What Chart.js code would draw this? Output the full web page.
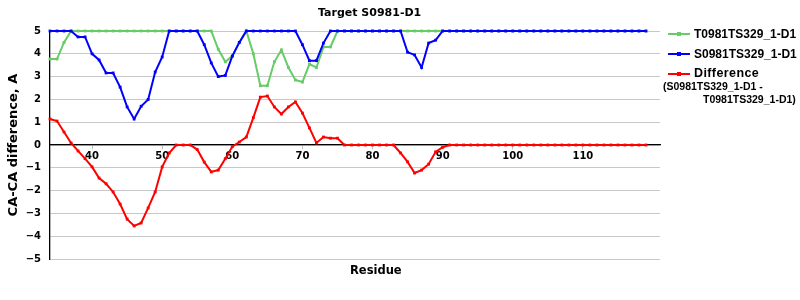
<!DOCTYPE html>
<html>
<head>
<meta charset="utf-8">
<script src="https://cdn.jsdelivr.net/npm/chart.js@4.4.1/dist/chart.umd.min.js"></script>
<style>
  html, body { margin: 0; padding: 0; background: #fff; }
  #wrap { position: relative; width: 800px; height: 300px; font-family: "DejaVu Sans", Verdana, sans-serif; }
  #c { position: absolute; left: 0; top: 0; }
  .txt { position: absolute; font-weight: bold; color: #000; white-space: nowrap; }
  .lg { font-family: "Liberation Sans", Arial, sans-serif; }
  .sw { position: absolute; width: 22px; height: 2px; }
  .sw i { position: absolute; left: 9px; top: -1px; width: 4px; height: 4px; background: inherit; }
</style>
</head>
<body>
<div id="wrap">
  <canvas id="c" width="800" height="300"></canvas>
  <div class="txt" style="left:318px;top:6px;font-size:11px;">Target S0981-D1</div>
  <div class="txt" style="left:350px;top:263px;font-size:11.5px;">Residue</div>

  <div class="sw" style="left:668px;top:33px;background:#66cc66"><i></i></div>
  <div class="txt lg" style="left:694px;top:27px;font-size:12px;">T0981TS329_1-D1</div>
  <div class="sw" style="left:668px;top:53px;background:#0000ff"><i></i></div>
  <div class="txt lg" style="left:694px;top:47px;font-size:12px;">S0981TS329_1-D1</div>
  <div class="sw" style="left:668px;top:73px;background:#ff0000"><i></i></div>
  <div class="txt lg" style="left:694px;top:66px;font-size:12.5px;letter-spacing:0.4px;">Difference</div>
  <div class="txt lg" style="left:663px;top:80px;font-size:10.5px;">(S0981TS329_1-D1 -</div>
  <div class="txt lg" style="left:703px;top:93px;font-size:10.5px;">T0981TS329_1-D1)</div>
</div>
<script>
// residue numbers along the x axis
const residues = [34,35,36,37,38,39,40,41,42,43,44,45,46,47,48,49,50,51,52,53,54,55,56,57,58,59,
  60,61,62,63,64,65,66,67,68,69,70,71,72,73,74,75,76,77,78,79,80,81,82,83,84,85,86,87,88,89,
  90,91,92,93,94,95,96,97,98,99,100,101,102,103,104,105,106,107,108,109,110,111,112,113,114,
  115,116,117,118,119];

// T0981TS329_1-D1 (green)
const tValues = [3.77,3.77,4.5,5,5,5,5,5,5,5,5,5,5,5,5,5,5,5,5,5,5,5,5,5,4.2,3.65,
  3.9,4.5,5,4.0,2.6,2.6,3.65,4.17,3.4,2.85,2.76,3.55,3.4,4.3,4.3,5,5,5,5,5,5,5,5,5,5,5,5,5,5,5,
  5,5,5,5,5,5,5,5,5,5,5,5,5,5,5,5,5,5,5,5,5,5,5,5,5,
  5,5,5,5,5];

// S0981TS329_1-D1 (blue)
const sValues = [5,5,5,5,4.74,4.74,4.0,3.73,3.16,3.16,2.54,1.67,1.14,1.7,2.0,3.2,3.86,5,5,5,5,5,4.4,3.6,3.0,3.05,
  3.9,4.5,5,5,5,5,5,5,5,5,4.4,3.7,3.7,4.47,5,5,5,5,5,5,5,5,5,5,5,4.07,3.95,3.4,4.47,4.6,
  5,5,5,5,5,5,5,5,5,5,5,5,5,5,5,5,5,5,5,5,5,5,5,5,5,
  5,5,5,5,5];

// Difference (S - T, red)
const diffValues = [1.14,1.05,0.57,0.09,-0.26,-0.6,-0.96,-1.45,-1.7,-2.06,-2.59,-3.25,-3.55,-3.42,-2.76,-2.06,-0.96,-0.35,0,0,0,-0.2,-0.75,-1.18,-1.1,-0.6,
  -0.07,0.13,0.35,1.2,2.1,2.15,1.67,1.36,1.67,1.89,1.4,0.75,0.09,0.35,0.3,0.3,0,0,0,0,0,0,0,0,-0.35,-0.74,-1.23,-1.1,-0.84,-0.3,
  -0.1,0,0,0,0,0,0,0,0,0,0,0,0,0,0,0,0,0,0,0,0,0,0,0,0,
  0,0,0,0,0];

const yTicks = [-5,-4,-3,-2,-1,0,1,2,3,4,5];
const xTicks = [40,50,60,70,80,90,100,110];

function pts(vals) {
  return residues.map((r, i) => ({ x: r, y: vals[i] }));
}

function lineSet(label, vals, color, order) {
  return {
    label: label,
    data: pts(vals),
    borderColor: color,
    backgroundColor: color,
    borderWidth: 2,
    pointStyle: 'rect',
    pointRadius: 2,
    pointBorderWidth: 0,
    pointBackgroundColor: color,
    tension: 0,
    clip: 4,
    order: order
  };
}

const tickFont = { family: '"DejaVu Sans", Verdana, sans-serif', size: 10, weight: 'bold' };

new Chart(document.getElementById('c'), {
  type: 'line',
  data: {
    datasets: [
      lineSet('T0981TS329_1-D1', tValues, '#66cc66', 3),
      lineSet('S0981TS329_1-D1', sValues, '#0000ff', 2),
      lineSet('Difference', diffValues, '#ff0000', 1)
    ]
  },
  options: {
    responsive: false,
    animation: false,
    layout: { padding: { left: 0, right: 140, top: 31, bottom: 41 } },
    plugins: { legend: { display: false }, tooltip: { enabled: false }, title: { display: false } },
    scales: {
      x: {
        type: 'linear',
        position: { y: 0 },
        min: 34,
        max: 121,
        afterBuildTicks: (s) => { s.ticks = xTicks.map(v => ({ value: v })); },
        grid: { drawOnChartArea: false, drawTicks: true, tickLength: 4, color: '#c0c0c0' },
        border: { display: true, color: '#000', width: 1.3 },
        ticks: { font: tickFont, color: '#000', padding: 1, maxRotation: 0 }
      },
      y: {
        min: -5,
        max: 5,
        afterBuildTicks: (s) => { s.ticks = yTicks.map(v => ({ value: v })); },
        afterFit: (s) => { s.width = 50; },
        grid: { color: '#c8c8c8', lineWidth: 1, drawTicks: false },
        border: { display: true, color: '#000', width: 1.3 },
        ticks: {
          font: tickFont, color: '#000', padding: 9,
          callback: (v) => v < 0 ? '\u2212' + Math.abs(v) : String(v)
        },
        title: {
          display: true,
          text: 'CA-CA difference, A',
          color: '#000',
          font: { family: '"DejaVu Sans", Verdana, sans-serif', size: 13, weight: 'bold' },
          padding: { top: 6, bottom: 0 }
        }
      }
    }
  }
});
</script>
</body>
</html>
